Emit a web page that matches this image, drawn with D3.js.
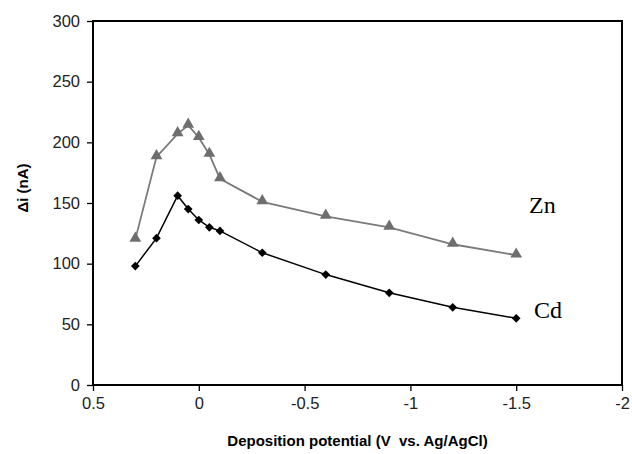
<!DOCTYPE html>
<html>
<head>
<meta charset="utf-8">
<script src="https://cdn.jsdelivr.net/npm/d3@7"></script>
<style>
  body { margin: 0; background: #fff; }
  svg { display: block; }
</style>
</head>
<body>
<div id="chart"></div>
<script>
// deposition potential (V vs. Ag/AgCl)
var potential = [0.3, 0.2, 0.1, 0.05, 0, -0.05, -0.1, -0.3, -0.6, -0.9, -1.2, -1.5];
// peak currents (nA)
var zinc = [120, 188, 207, 214, 204, 190, 170, 151, 139, 130, 116, 107];
var cadmium = [98, 121, 156, 145, 136, 130, 127, 109, 91, 76, 64, 55];
var xTicks = [0.5, 0, -0.5, -1, -1.5, -2];
var yTicks = [0, 50, 100, 150, 200, 250, 300];

var width = 632;
var height = 454;
var margin = { top: 21, right: 10, bottom: 69, left: 93 };

var svg = d3.select("#chart")
  .append("svg")
  .attr("width", width)
  .attr("height", height);

var x = d3.scaleLinear()
  .domain([0.5, -2])
  .range([margin.left, width - margin.right]);

var y = d3.scaleLinear()
  .domain([0, 300])
  .range([height - margin.bottom, margin.top]);

// frame
svg.append("rect")
  .attr("x", x(0.5))
  .attr("y", y(300))
  .attr("width", x(-2) - x(0.5))
  .attr("height", y(0) - y(300))
  .attr("fill", "none")
  .attr("stroke", "#000")
  .attr("stroke-width", 2);

var xAxis = svg.append("g")
  .attr("transform", "translate(0," + y(0) + ")")
  .call(d3.axisBottom(x).tickValues(xTicks).tickSize(6).tickPadding(6)
    .tickFormat(function (d) { return String(d); }));

var yAxis = svg.append("g")
  .attr("transform", "translate(" + x(0.5) + ",0)")
  .call(d3.axisLeft(y).tickValues(yTicks).tickSize(6).tickPadding(7));

[xAxis, yAxis].forEach(function (g) {
  g.select(".domain").remove();
  g.selectAll(".tick line").attr("stroke", "#000").attr("stroke-width", 1.3);
  g.selectAll(".tick text")
    .attr("fill", "#222")
    .style("font-family", "'Liberation Sans', Arial, sans-serif")
    .style("font-size", "16.5px");
});

var line = d3.line()
  .x(function (d) { return x(d[0]); })
  .y(function (d) { return y(d[1]); });

var znData = potential.map(function (p, i) { return [p, zinc[i]]; });
var cdData = potential.map(function (p, i) { return [p, cadmium[i]]; });

svg.append("path")
  .datum(znData)
  .attr("d", line)
  .attr("fill", "none")
  .attr("stroke", "#7a7a7a")
  .attr("stroke-width", 1.8);

svg.append("path")
  .datum(cdData)
  .attr("d", line)
  .attr("fill", "none")
  .attr("stroke", "#000")
  .attr("stroke-width", 1.5);

svg.selectAll(".zn")
  .data(znData)
  .enter()
  .append("path")
  .attr("class", "zn")
  .attr("d", d3.symbol().type(d3.symbolTriangle).size(60))
  .attr("transform", function (d) {
    return "translate(" + x(d[0]) + "," + (y(d[1]) - 1) + ")";
  })
  .attr("fill", "#6e6e6e");

svg.selectAll(".cd")
  .data(cdData)
  .enter()
  .append("path")
  .attr("class", "cd")
  .attr("d", d3.symbol().type(d3.symbolSquare).size(38))
  .attr("transform", function (d) {
    return "translate(" + x(d[0]) + "," + y(d[1]) + ") rotate(45)";
  })
  .attr("fill", "#000");

// series labels
svg.append("text")
  .attr("x", 529)
  .attr("y", 213)
  .style("font-family", "'Liberation Serif', 'Times New Roman', serif")
  .style("font-size", "24px")
  .text("Zn");

svg.append("text")
  .attr("x", 534)
  .attr("y", 318)
  .style("font-family", "'Liberation Serif', 'Times New Roman', serif")
  .style("font-size", "24px")
  .text("Cd");

// axis titles
svg.append("text")
  .attr("x", (x(0.5) + x(-2)) / 2)
  .attr("y", 446)
  .attr("text-anchor", "middle")
  .attr("xml:space", "preserve")
  .style("font-family", "'Liberation Sans', Arial, sans-serif")
  .style("font-size", "15px")
  .style("font-weight", "bold")
  .text("Deposition potential (V  vs. Ag/AgCl)");

svg.append("text")
  .attr("transform", "translate(28," + 188 + ") rotate(-90)")
  .attr("text-anchor", "middle")
  .style("font-family", "'Liberation Sans', Arial, sans-serif")
  .style("font-size", "15px")
  .style("font-weight", "bold")
  .text("Δi (nA)");
</script>
</body>
</html>
